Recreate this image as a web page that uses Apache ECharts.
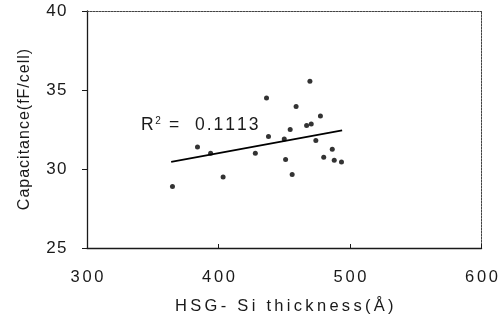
<!DOCTYPE html>
<html>
<head>
<meta charset="utf-8">
<script src="https://cdn.jsdelivr.net/npm/echarts@6/dist/echarts.min.js"></script>
<style>
  html, body { margin: 0; padding: 0; background: #fff; }
  #chart { width: 501px; height: 320px; }
</style>
</head>
<body>
<div id="chart"></div>
<script>
// thickness (Å) vs capacitance (fF/cell)
const thickness = [365, 384, 394, 403.5, 428, 436.5, 438, 450, 451, 454.5, 456, 459, 467, 469.5, 470.5, 474, 477.5, 480, 486.5, 488, 493.5];
const capacitance = [28.9, 31.4, 31.0, 29.5, 31.0, 34.5, 32.05, 31.9, 30.6, 32.5, 29.65, 33.95, 32.75, 35.55, 32.85, 31.8, 33.35, 30.75, 31.25, 30.55, 30.45];
// linear fit line end points
const fitX = [364, 494];
const fitY = [30.45, 32.45];
const xTicks = [300, 400, 500, 600];
const yTicks = [25, 30, 35, 40];

const font = '"Liberation Sans", Arial, sans-serif';
const ink = '#1a1a1a';

const points = thickness.map((t, i) => [t, capacitance[i]]);
const fit = fitX.map((t, i) => [t, fitY[i]]);

// canvas text has no letter spacing: one rich token per char, each a bit wider than the glyph
const measureCtx = document.createElement('canvas').getContext('2d');
function tracked(size, gap, key, extra) {
    const rich = {};
    const fmt = s => String(s).split('').map(ch => {
        const k = key + ch.charCodeAt(0);
        if (!rich[k]) {
            measureCtx.font = size + 'px ' + font;
            rich[k] = Object.assign({
                fontFamily: font, fontSize: size, color: ink, fill: ink,
                width: measureCtx.measureText(ch).width + gap, align: 'center'
            }, extra || {});
        }
        return '{' + k + '|' + ch + '}';
    }).join('');
    return { fmt, rich };
}

const xLab = tracked(16.5, 2.7, 'x');
const yLab = tracked(17, 1.2, 'y');
const xName = tracked(16.5, 3.3, 'n');
const yName = tracked(16, 1, 'm');
const rTxt = tracked(17.5, 2, 'r');
const rSup = tracked(10, 1, 's', { verticalAlign: 'top', padding: [0, 0, 9, 0] });

// fill the rich tables before the option is handed over
xTicks.forEach(xLab.fmt);
yTicks.forEach(yLab.fmt);
const xNameText = xName.fmt('HSG- Si thickness(Å)');
const yNameText = yName.fmt('Capacitance(fF/cell)');
const rText = rTxt.fmt('R') + rSup.fmt('2') + rTxt.fmt(' =  0.1113');

// top / right frame drawn as plain extra axes
const frame = {
    axisLine: { show: true, lineStyle: { color: '#444', width: 1, type: [2, 1] } },
    axisTick: { show: false },
    axisLabel: { show: false },
    splitLine: { show: false }
};

const chart = echarts.init(document.getElementById('chart'));
chart.setOption({
    animation: false,
    grid: { left: 87, right: 19, top: 11, bottom: 70 },
    xAxis: [{
        type: 'value',
        min: xTicks[0], max: xTicks[xTicks.length - 1], interval: 100,
        name: xNameText,
        nameLocation: 'middle', nameGap: 50,
        nameTextStyle: { rich: xName.rich },
        axisLine: { show: true, lineStyle: { color: ink, width: 1.3 } },
        axisTick: { show: true, inside: true, length: 4, lineStyle: { color: ink } },
        axisLabel: { margin: 21, formatter: xLab.fmt, rich: xLab.rich },
        splitLine: { show: false }
    }, Object.assign({ type: 'value', position: 'top', min: 300, max: 600 }, frame)],
    yAxis: [{
        type: 'value',
        min: yTicks[0], max: yTicks[yTicks.length - 1], interval: 5,
        name: yNameText,
        nameLocation: 'middle', nameGap: 54,
        nameTextStyle: { rich: yName.rich },
        axisLine: { show: true, lineStyle: { color: ink, width: 1.3 } },
        axisTick: { show: true, length: 5, lineStyle: { color: ink } },
        axisLabel: { margin: 20, formatter: yLab.fmt, rich: yLab.rich },
        splitLine: { show: false }
    }, Object.assign({ type: 'value', position: 'right', min: 25, max: 40 }, frame)],
    graphic: [{
        type: 'text',
        left: 141, top: 116,
        style: {
            text: rText,
            rich: Object.assign({}, rTxt.rich, rSup.rich)
        }
    }],
    series: [
        {
            type: 'scatter',
            data: points,
            symbol: 'circle',
            symbolSize: 5,
            itemStyle: { color: '#000' }
        },
        {
            type: 'line',
            data: fit,
            symbol: 'none',
            lineStyle: { color: '#000', width: 1.8 }
        }
    ]
});
</script>
</body>
</html>
